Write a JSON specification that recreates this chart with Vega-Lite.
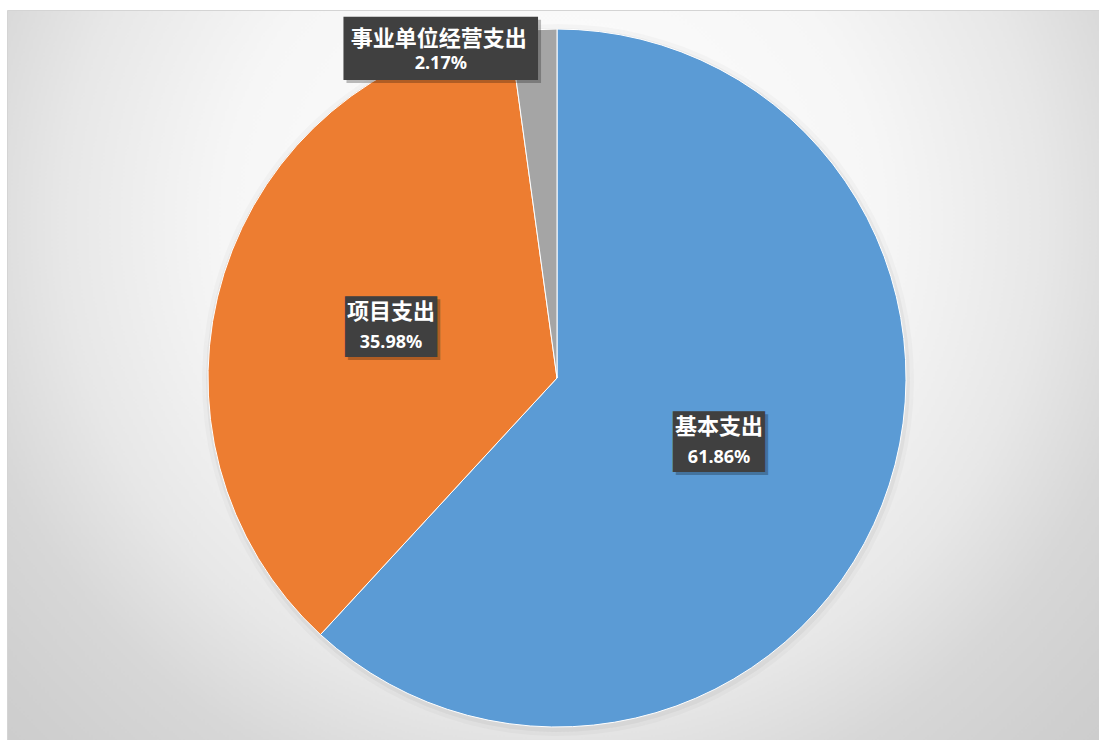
{
  "$schema": "https://vega.github.io/schema/vega-lite/v6.json",
  "width": 1092,
  "height": 730,
  "autosize": {"type": "none"},
  "padding": {"left": 7, "top": 10, "right": 0, "bottom": 0},
  "background": "#ffffff",
  "view": {
    "fill": {
      "gradient": "radial",
      "x1": 0.5, "y1": 0.36, "r1": 0,
      "x2": 0.5, "y2": 0.36, "r2": 1,
      "stops": [
        {"offset": 0, "color": "#ffffff"},
        {"offset": 0.3, "color": "#f6f6f6"},
        {"offset": 0.45, "color": "#e7e7e7"},
        {"offset": 0.55, "color": "#d7d7d7"},
        {"offset": 0.65, "color": "#cfcfcf"},
        {"offset": 0.85, "color": "#c4c4c4"},
        {"offset": 1, "color": "#c2c2c2"}
      ]
    },
    "stroke": "#d4d4d4"
  },
  "data": {
    "values": [
      {"name": "基本支出", "value": 61.86, "pct": "61.86%", "rank": 1},
      {"name": "项目支出", "value": 35.98, "pct": "35.98%", "rank": 2},
      {"name": "事业单位经营支出", "value": 2.17, "pct": "2.17%", "rank": 3}
    ]
  },
  "encoding": {
    "theta": {"field": "value", "type": "quantitative", "stack": true},
    "order": {"field": "rank", "type": "quantitative"}
  },
  "layer": [
    {
      "mark": {"type": "arc", "radius": 356, "fill": "#000000", "opacity": 0.025, "xOffset": 5, "yOffset": 5}
    },
    {
      "mark": {"type": "arc", "radius": 352, "fill": "#000000", "opacity": 0.04, "xOffset": 5, "yOffset": 5}
    },
    {
      "mark": {"type": "arc", "radius": 349, "stroke": "#ffffff", "strokeWidth": 1, "xOffset": 4, "yOffset": 3},
      "encoding": {
        "color": {
          "field": "name", "type": "nominal", "legend": null,
          "scale": {"domain": ["基本支出", "项目支出", "事业单位经营支出"], "range": ["#5b9bd5", "#ed7d31", "#a5a5a5"]}
        }
      }
    },
    {
      "mark": {"type": "text", "radius": 174, "font": "DejaVu Sans", "fontSize": 38, "baseline": "middle", "align": "center", "fill": "#000000", "stroke": "#000000", "strokeWidth": 58, "strokeJoin": "miter", "opacity": 0.25, "xOffset": 4, "yOffset": 3, "dx": 3, "dy": 3},
      "encoding": {"text": {"condition": {"test": "datum.rank < 3", "value": "—"}, "value": ""}}
    },
    {
      "mark": {"type": "text", "radius": 174, "font": "DejaVu Sans", "fontSize": 38, "baseline": "middle", "align": "center", "fill": "#404040", "stroke": "#404040", "strokeWidth": 58, "strokeJoin": "miter", "xOffset": 4, "yOffset": 3},
      "encoding": {"text": {"condition": {"test": "datum.rank < 3", "value": "—"}, "value": ""}}
    },
    {
      "mark": {"type": "text", "radius": 340, "font": "DejaVu Sans", "fontSize": 158, "baseline": "middle", "align": "center", "fill": "#000000", "stroke": "#000000", "strokeWidth": 52, "strokeJoin": "miter", "opacity": 0.25, "xOffset": 4, "yOffset": 3, "dx": -90, "dy": 9},
      "encoding": {"text": {"condition": {"test": "datum.rank == 3", "value": "—"}, "value": ""}}
    },
    {
      "mark": {"type": "text", "radius": 340, "font": "DejaVu Sans", "fontSize": 158, "baseline": "middle", "align": "center", "fill": "#404040", "stroke": "#404040", "strokeWidth": 52, "strokeJoin": "miter", "xOffset": 4, "yOffset": 3, "dx": -93, "dy": 6},
      "encoding": {"text": {"condition": {"test": "datum.rank == 3", "value": "—"}, "value": ""}}
    },
    {
      "mark": {"type": "text", "radius": 174, "font": "Noto Sans CJK SC", "fontWeight": "bold", "fontSize": 22, "baseline": "middle", "align": "center", "color": "#ffffff", "xOffset": 4, "yOffset": 3, "dy": -14},
      "encoding": {"text": {"condition": {"test": "datum.rank < 3", "field": "name"}, "value": ""}}
    },
    {
      "mark": {"type": "text", "radius": 174, "font": "Noto Sans", "fontWeight": "bold", "fontSize": 18, "baseline": "middle", "align": "center", "color": "#ffffff", "xOffset": 4, "yOffset": 3, "dy": 17},
      "encoding": {"text": {"condition": {"test": "datum.rank < 3", "field": "pct"}, "value": ""}}
    },
    {
      "mark": {"type": "text", "radius": 340, "font": "Noto Sans CJK SC", "fontWeight": "bold", "fontSize": 22, "baseline": "middle", "align": "center", "color": "#ffffff", "xOffset": 4, "yOffset": 3, "dx": -95, "dy": 0},
      "encoding": {"text": {"condition": {"test": "datum.rank == 3", "field": "name"}, "value": ""}}
    },
    {
      "mark": {"type": "text", "radius": 340, "font": "Noto Sans", "fontWeight": "bold", "fontSize": 18, "baseline": "middle", "align": "center", "color": "#ffffff", "xOffset": 4, "yOffset": 3, "dx": -93, "dy": 25},
      "encoding": {"text": {"condition": {"test": "datum.rank == 3", "field": "pct"}, "value": ""}}
    }
  ]
}
